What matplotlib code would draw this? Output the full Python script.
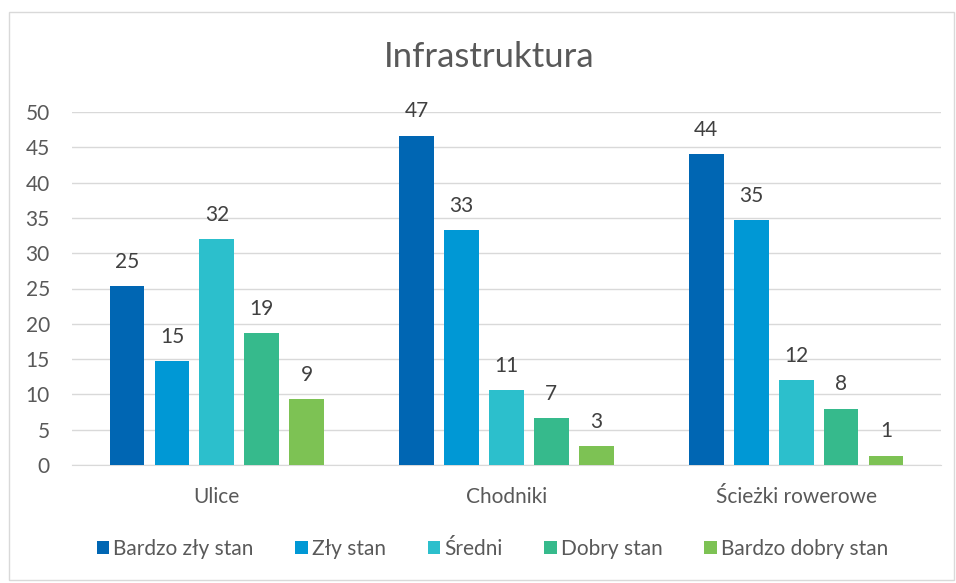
import numpy as np
import matplotlib.pyplot as plt
from matplotlib.patches import Rectangle

# data (percent of answers)
categories = ['Ulice', 'Chodniki', 'Ścieżki rowerowe']
series_names = ['Bardzo zły stan', 'Zły stan', 'Średni', 'Dobry stan', 'Bardzo dobry stan']
bardzo_zly = [25.33, 46.67, 44.00]
zly = [14.67, 33.33, 34.67]
sredni = [32.00, 10.67, 12.00]
dobry = [18.67, 6.67, 8.00]
bardzo_dobry = [9.33, 2.67, 1.33]
yticks = [0, 5, 10, 15, 20, 25, 30, 35, 40, 45, 50]

colors = ['#0066B3', '#0098D5', '#2CBFCC', '#36BA8C', '#7DC254']
text_col = '#595959'

plt.rcParams['font.family'] = ['Lato', 'DejaVu Sans']

fig = plt.figure(figsize=(9.56, 5.83), dpi=100)
ax = fig.add_axes([72 / 956, 1 - 465 / 583, 869 / 956, 353 / 583])

# light border around the whole chart
fig.patches.append(Rectangle((9 / 956, 3 / 583), 945 / 956, 568 / 583, transform=fig.transFigure,
                             fill=False, edgecolor='#D9D9D9', linewidth=1))

series = [bardzo_zly, zly, sredni, dobry, bardzo_dobry]
x = np.arange(len(categories))
w = 0.12
step = 0.155
for i, (vals, name) in enumerate(zip(series, series_names)):
    pos = x + (i - 2) * step
    bars = ax.bar(pos, vals, width=w, color=colors[i], label=name, zorder=3)
    for b, v in zip(bars, vals):
        ax.text(b.get_x() + b.get_width() / 2, v + 2.0, f'{round(v)}', ha='center', va='bottom',
                fontsize=15, color='#404040')

ax.set_xlim(-0.5, 2.5)
ax.set_ylim(0, 50)
ax.set_yticks(yticks)
ax.set_xticks(x)
ax.set_xticklabels(categories)
ax.tick_params(axis='both', length=0, labelsize=15, labelcolor=text_col)
ax.tick_params(axis='y', pad=16)
ax.tick_params(axis='x', pad=16)
ax.grid(axis='y', color='#D9D9D9', linewidth=1, zorder=0)
for s in ['top', 'right', 'left']:
    ax.spines[s].set_visible(False)
ax.spines['bottom'].set_color('#D9D9D9')

fig.text(489 / 956, 1 - 57 / 583, 'Infrastruktura', ha='center', va='center', fontsize=25, color=text_col)

ax.legend(loc='center', bbox_to_anchor=(0.484, (465 - 549) / 353), ncol=5, frameon=False,
          fontsize=15, labelcolor=text_col, handlelength=0.6, handleheight=0.6,
          handletextpad=0.2, columnspacing=2.0)

fig.savefig('out.png', dpi=100)
